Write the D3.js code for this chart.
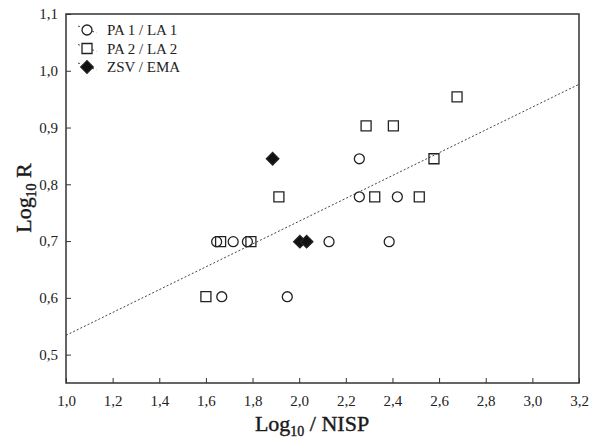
<!DOCTYPE html>
<html>
<head>
<meta charset="utf-8">
<script src="https://cdn.jsdelivr.net/npm/d3@7"></script>
<style>
  body { margin: 0; background: #fff; }
  svg text { font-family: "Liberation Serif", "Times New Roman", Times, serif !important; }
</style>
</head>
<body>
<svg id="chart" width="590" height="440"></svg>
<script>
// log10 NISP / log10 R per group
const paOneX = [2.258, 2.258, 2.421, 1.646, 1.717, 1.778, 2.128, 2.386, 1.668, 1.949];
const paOneY = [0.845, 0.778, 0.778, 0.699, 0.699, 0.699, 0.699, 0.699, 0.602, 0.602];
const paTwoX = [2.677, 2.287, 2.404, 2.578, 1.913, 2.324, 2.515, 1.663, 1.793, 1.600];
const paTwoY = [0.954, 0.903, 0.903, 0.845, 0.778, 0.778, 0.778, 0.699, 0.699, 0.602];
const zsvX = [1.886, 2.003, 2.032];
const zsvY = [0.845, 0.699, 0.699];

const legendLabels = ["PA 1 / LA 1", "PA 2 / LA 2", "ZSV / EMA"];
const xTicks = [1.0, 1.2, 1.4, 1.6, 1.8, 2.0, 2.2, 2.4, 2.6, 2.8, 3.0, 3.2];
const yTicks = [0.5, 0.6, 0.7, 0.8, 0.9, 1.0, 1.1];
// fitted line: y = a + b*x
const fitLine = [0.333, 0.201];

const svg = d3.select("#chart");
const margin = { top: 14, right: 11, bottom: 57, left: 66 };
const width = 590, height = 440;

const x = d3.scaleLinear().domain([1.0, 3.2]).range([margin.left, width - margin.right]);
const y = d3.scaleLinear().domain([0.45, 1.1]).range([height - margin.bottom, margin.top]);
const fmt = d => d3.format(".1f")(d).replace(".", ",");

// regression line
svg.append("line")
    .attr("x1", x(1.0)).attr("y1", y(fitLine[0] + fitLine[1] * 1.0))
    .attr("x2", x(3.2)).attr("y2", y(fitLine[0] + fitLine[1] * 3.2))
    .attr("stroke", "#444")
    .attr("stroke-width", 1)
    .attr("stroke-dasharray", "2,2");

// axes with inward ticks
const xAxis = svg.append("g")
    .attr("transform", `translate(0,${height - margin.bottom})`)
    .call(d3.axisBottom(x).tickValues(xTicks).tickSizeInner(-5).tickSizeOuter(0).tickPadding(12).tickFormat(fmt));
const yAxis = svg.append("g")
    .attr("transform", `translate(${margin.left},0)`)
    .call(d3.axisLeft(y).tickValues(yTicks).tickSizeInner(-5).tickSizeOuter(0).tickPadding(8).tickFormat(fmt));
[xAxis, yAxis].forEach(g => {
    g.attr("font-family", null);
    g.select(".domain").remove();
    g.selectAll("line").attr("stroke", "#333");
    g.selectAll("text").attr("font-size", 15).attr("fill", "#222");
});

// frame
svg.append("rect")
    .attr("x", margin.left).attr("y", margin.top)
    .attr("width", width - margin.left - margin.right)
    .attr("height", height - margin.top - margin.bottom)
    .attr("fill", "none")
    .attr("stroke", "#333")
    .attr("stroke-width", 1.5);

const sym = {
    circle: d3.symbol().type(d3.symbolCircle).size(78),
    square: d3.symbol().type(d3.symbolSquare).size(100),
    diamond: d3.symbol().type(d3.symbolSquare).size(78)
};
const rot = { circle: 0, square: 0, diamond: 45 };

function drawGroup(xs, ys, shape, filled) {
    svg.append("g").selectAll("path")
        .data(xs.map((v, i) => [v, ys[i]]))
        .enter().append("path")
        .attr("transform", d => `translate(${x(d[0])},${y(d[1])}) rotate(${rot[shape]})`)
        .attr("d", sym[shape])
        .attr("fill", filled ? "#111" : "none")
        .attr("stroke", "#222")
        .attr("stroke-width", 1.3);
}
drawGroup(paOneX, paOneY, "circle", false);
drawGroup(paTwoX, paTwoY, "square", false);
drawGroup(zsvX, zsvY, "diamond", true);

// legend
const legendShapes = ["circle", "square", "diamond"];
legendLabels.forEach((lab, i) => {
    const ly = 30 + i * 18.5;
    svg.append("line")
        .attr("x1", 78).attr("y1", ly - 4)
        .attr("x2", 97).attr("y2", ly + 3)
        .attr("stroke", "#444")
        .attr("stroke-width", 1)
        .attr("stroke-dasharray", "2,3");
    svg.append("path")
        .attr("transform", `translate(87,${ly}) rotate(${rot[legendShapes[i]]})`)
        .attr("d", sym[legendShapes[i]])
        .attr("fill", i === 2 ? "#111" : "#fff")
        .attr("stroke", "#222")
        .attr("stroke-width", 1.3);
    svg.append("text")
        .attr("x", 107).attr("y", ly + 5)
        .attr("font-size", 15)
        .attr("fill", "#222")
        .text(lab);
});

// axis titles
const xt = svg.append("text")
    .attr("x", 312).attr("y", 431)
    .attr("text-anchor", "middle")
    .attr("font-size", 22)
    .attr("fill", "#1a1a1a")
    .attr("stroke", "#1a1a1a")
    .attr("stroke-width", 0.4);
xt.append("tspan").text("Log");
xt.append("tspan").attr("font-size", 14).attr("dy", 5).text("10");
xt.append("tspan").attr("dy", -5).text(" / NISP");

const yt = svg.append("text")
    .attr("transform", "translate(31,198) rotate(-90)")
    .attr("text-anchor", "middle")
    .attr("font-size", 22)
    .attr("fill", "#1a1a1a")
    .attr("stroke", "#1a1a1a")
    .attr("stroke-width", 0.4);
yt.append("tspan").text("Log");
yt.append("tspan").attr("font-size", 14).attr("dy", 5).text("10");
yt.append("tspan").attr("dy", -5).text(" R");
</script>
</body>
</html>
